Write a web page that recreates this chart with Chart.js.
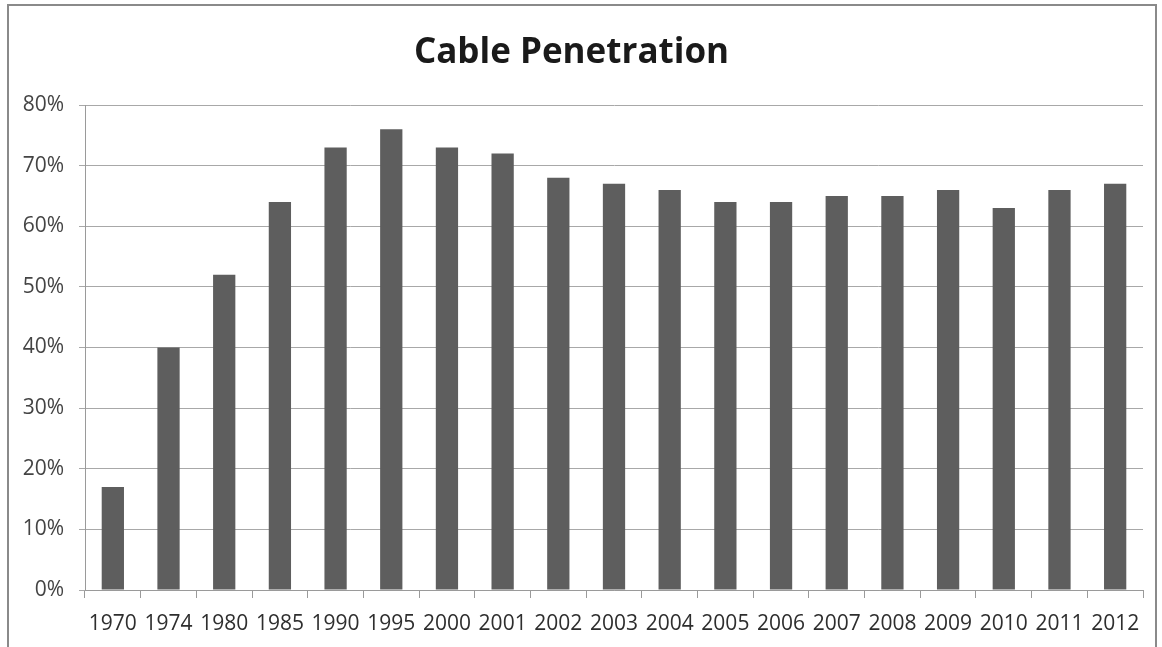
<!DOCTYPE html>
<html>
<head>
<meta charset="utf-8">
<script src="https://cdn.jsdelivr.net/npm/chart.js@4"></script>
<style>
  body { margin: 0; background: #fff; }
  #wrap { position: relative; width: 1162px; height: 647px; }
  #frame { position: absolute; left: 7px; top: 4px; width: 1150px; height: 650px; border: 2px solid #8a8a8a; box-sizing: border-box; }
  canvas { position: absolute; left: 0; top: 0; }
</style>
</head>
<body>
<div id="wrap">
  <div id="frame"></div>
  <canvas id="chart" width="1162" height="647"></canvas>
</div>
<script>
// data
const years = ['1970', '1974', '1980', '1985', '1990', '1995', '2000', '2001', '2002', '2003',
               '2004', '2005', '2006', '2007', '2008', '2009', '2010', '2011', '2012'];
const penetration = [17, 40, 52, 64, 73, 76, 73, 72, 68, 67, 66, 64, 64, 65, 65, 66, 63, 66, 67];
const yTicks = [0, 10, 20, 30, 40, 50, 60, 70, 80];

const fontFamily = "'Open Sans', 'Noto Sans', sans-serif";

new Chart(document.getElementById('chart'), {
    type: 'bar',
    data: {
        labels: years,
        datasets: [{
            data: penetration,
            backgroundColor: '#5e5e5e',
            categoryPercentage: 1,
            barPercentage: 0.4
        }]
    },
    options: {
        responsive: false,
        animation: false,
        layout: { padding: { left: 0, right: 19, top: 0, bottom: 0 } },
        plugins: {
            legend: { display: false },
            tooltip: { enabled: false },
            title: {
                display: true,
                text: 'Cable Penetration',
                color: '#1a1a1a',
                font: { family: fontFamily, size: 35, weight: 'bold' },
                padding: { top: 32, bottom: 31 }
            }
        },
        scales: {
            x: {
                grid: { drawOnChartArea: false, drawTicks: true, tickLength: 8, color: '#9a9a9a' },
                border: { color: '#9a9a9a', width: 1 },
                ticks: { color: '#2e2e2e', font: { family: fontFamily, size: 21 }, maxRotation: 0, autoSkip: false, padding: 13 },
                afterFit: s => { s.height = 57; }
            },
            y: {
                min: 0,
                max: 80,
                afterBuildTicks: s => { s.ticks = yTicks.map(v => ({ value: v })); },
                grid: { color: '#a8a8a8', tickLength: 6 },
                border: { color: '#9a9a9a', width: 1 },
                ticks: {
                    color: '#444',
                    font: { family: fontFamily, size: 21 },
                    padding: 15,
                    callback: v => v + '%'
                },
                afterFit: s => { s.width = 85; }
            }
        }
    }
});
</script>
</body>
</html>
